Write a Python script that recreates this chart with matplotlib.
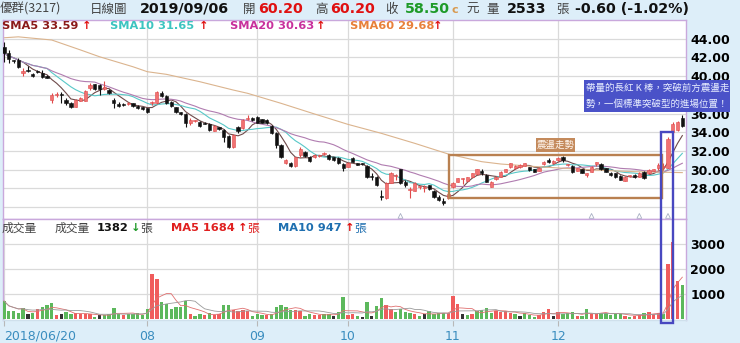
import numpy as np
import pandas as pd
import matplotlib
matplotlib.use("Agg")
import matplotlib.pyplot as plt
from matplotlib.patches import Rectangle

# ---------------- data ----------------
opens = [43.15, 42.44, 41.65, 41.72, 40.30, 40.65, 40.19, 40.55, 40.37, 40.01,
         37.45, 38.00, 38.00, 37.45, 37.16, 36.73, 37.37, 37.37, 38.70, 39.12,
         39.05, 38.60, 38.51, 37.45, 37.02, 37.02, 37.00, 37.09, 36.84, 36.66,
         36.56, 37.10, 37.09, 38.23, 37.87, 37.20, 36.66, 36.05, 35.92, 35.02,
         35.15, 35.12, 34.95, 34.88, 34.16, 34.53, 34.24, 33.59, 32.45, 34.53,
         34.42, 35.45, 35.49, 35.66, 35.38, 35.31, 34.66, 33.92, 32.63, 30.67,
         30.74, 30.39, 31.56, 31.92, 31.32, 31.32, 31.45, 31.70, 31.56, 31.32,
         31.21, 30.60, 30.31, 31.21, 30.67, 30.60, 30.39, 29.20, 29.24, 27.05,
         26.93, 28.60, 29.30, 30.03, 28.71, 27.82, 27.74, 28.10, 28.00, 28.35,
         27.74, 27.10, 26.67, 26.93, 28.17, 28.71, 28.95, 28.81, 29.24, 29.53,
         29.88, 29.42, 28.17, 28.96, 29.24, 29.78, 30.25, 30.14, 30.25, 30.39,
         30.25, 30.06, 29.88, 30.57, 31.03, 30.67, 31.03, 31.32, 30.45, 30.39,
         29.88, 30.03, 29.39, 29.78, 30.65, 30.63, 30.14, 29.69, 29.60, 29.32,
         28.83, 29.30, 29.42, 29.24, 29.78, 29.60, 29.88, 30.14, 30.30, 30.20,
         34.05, 34.24, 35.52]
highs = [43.68, 42.79, 41.75, 41.90, 40.84, 41.10, 40.30, 40.65, 40.65, 40.10,
         38.16, 38.27, 38.33, 37.63, 37.25, 37.55, 37.75, 38.50, 39.23, 39.20,
         39.16, 39.48, 38.60, 37.63, 37.26, 37.10, 37.20, 37.15, 36.90, 36.75,
         36.60, 37.37, 38.40, 38.44, 37.95, 37.30, 36.75, 36.19, 36.02, 35.52,
         35.30, 35.20, 35.05, 34.95, 34.75, 34.60, 34.35, 33.70, 33.80, 34.67,
         35.40, 35.84, 35.60, 35.75, 35.45, 35.40, 34.75, 34.00, 32.70, 31.10,
         30.85, 31.40, 32.39, 32.00, 31.46, 31.65, 31.60, 31.92, 31.65, 31.40,
         31.30, 30.74, 30.80, 31.30, 30.75, 30.70, 30.45, 29.61, 29.30, 27.82,
         28.70, 29.75, 29.53, 30.10, 28.89, 28.10, 28.65, 28.25, 28.35, 28.40,
         27.80, 27.28, 26.93, 27.45, 28.71, 29.15, 29.07, 29.25, 29.65, 30.10,
         30.03, 29.50, 28.80, 29.30, 29.85, 30.10, 30.75, 30.50, 30.55, 30.75,
         30.30, 30.10, 30.25, 30.95, 31.24, 31.00, 31.35, 31.46, 30.55, 30.45,
         30.20, 30.10, 29.65, 30.40, 30.85, 30.70, 30.20, 29.75, 29.65, 29.40,
         29.35, 29.40, 29.50, 29.70, 29.85, 30.05, 30.10, 30.74, 30.67, 33.45,
         35.10, 35.15, 35.84]
lows = [41.54, 41.40, 41.45, 40.84, 40.04, 40.47, 39.95, 40.30, 39.77, 39.75,
        37.09, 37.80, 37.09, 36.91, 36.60, 36.65, 37.30, 37.30, 38.51, 38.55,
        37.98, 38.51, 38.10, 36.55, 36.66, 36.80, 36.95, 36.75, 36.50, 36.40,
        36.10, 36.91, 37.00, 37.80, 37.00, 36.70, 36.10, 35.84, 34.52, 34.77,
        35.05, 34.60, 34.85, 34.15, 34.10, 34.25, 32.99, 32.30, 32.35, 33.88,
        34.35, 35.30, 35.25, 34.95, 34.95, 34.90, 33.80, 32.31, 31.20, 30.60,
        30.30, 30.30, 31.38, 31.40, 30.85, 31.25, 31.40, 31.56, 31.00, 30.95,
        30.60, 29.88, 30.25, 30.80, 30.45, 30.50, 29.10, 28.89, 28.30, 26.75,
        26.85, 28.55, 28.89, 28.45, 28.10, 26.92, 27.70, 27.90, 27.64, 27.85,
        26.93, 26.68, 26.22, 26.85, 27.99, 28.65, 28.46, 28.75, 29.20, 29.45,
        29.42, 28.65, 28.10, 28.90, 29.20, 29.70, 30.20, 30.10, 30.20, 30.35,
        29.90, 29.70, 29.85, 30.50, 30.68, 30.60, 30.95, 30.85, 30.35, 29.65,
        29.80, 29.60, 29.25, 29.70, 30.40, 30.00, 29.70, 29.30, 29.15, 28.85,
        28.75, 29.20, 29.15, 29.20, 29.00, 29.55, 29.80, 29.96, 29.96, 30.14,
        33.90, 34.15, 34.55]
closes = [42.44, 41.83, 41.60, 41.01, 40.58, 40.55, 40.01, 40.41, 39.94, 39.83,
          37.98, 38.05, 37.95, 37.09, 36.73, 37.45, 37.63, 38.41, 39.05, 38.62,
          38.62, 38.85, 38.16, 37.09, 36.80, 36.88, 37.10, 36.84, 36.56, 36.45,
          36.19, 37.16, 38.33, 37.87, 37.09, 36.80, 36.19, 36.00, 34.95, 35.31,
          35.20, 34.66, 34.90, 34.24, 34.66, 34.31, 33.46, 32.45, 33.70, 34.16,
          35.30, 35.50, 35.31, 35.02, 35.02, 34.95, 33.88, 32.63, 31.32, 31.03,
          30.39, 31.32, 32.17, 31.46, 30.95, 31.56, 31.50, 31.75, 31.10, 31.03,
          30.67, 30.14, 30.74, 30.85, 30.49, 30.58, 29.18, 29.18, 28.35, 27.04,
          28.60, 29.67, 29.32, 28.53, 28.35, 27.85, 28.60, 28.11, 28.02, 27.89,
          27.10, 26.75, 26.46, 27.39, 28.54, 29.07, 29.00, 29.18, 29.60, 30.03,
          29.67, 28.71, 28.71, 29.24, 29.78, 30.03, 30.67, 30.42, 30.49, 30.67,
          29.96, 29.78, 30.20, 30.85, 30.78, 30.92, 31.27, 31.03, 30.46, 29.74,
          30.14, 29.67, 29.60, 30.31, 30.67, 30.07, 29.78, 29.39, 29.24, 28.94,
          29.26, 29.32, 29.24, 29.60, 29.07, 29.96, 30.06, 30.49, 30.31, 33.30,
          34.88, 35.06, 34.66]

volumes = [733, 347, 347, 240, 440, 200, 267, 413, 507, 573,
           640, 160, 213, 307, 200, 240, 213, 200, 213, 107,
           160, 160, 200, 467, 200, 160, 200, 227, 240, 173,
           427, 1800, 1600, 707, 613, 413, 480, 507, 747, 213,
           133, 213, 173, 267, 173, 200, 573, 560, 373, 333,
           373, 320, 133, 200, 173, 160, 200, 480, 573, 507,
           373, 387, 347, 133, 200, 160, 160, 200, 227, 147,
           293, 880, 160, 213, 133, 107, 693,
           133, 533, 840, 560, 413, 293, 413, 293, 267, 200,
           133, 200, 320, 200, 253, 253, 240, 933, 613, 213,
           173, 200, 333, 373, 440, 267, 333, 307, 333, 267,
           200, 133, 240, 160, 107, 173, 307, 413, 133, 307,
           200, 240, 280, 133, 133, 400, 200, 227, 267, 267,
           160, 227, 227, 133, 107, 133, 160, 267, 293, 227,
           253, 213, 2200, 3100, 1533, 1382]
# r = up, g = down, k = unchanged
vol_colors = ("gggggkgrgg" "grkggrrrrg" "kggggrgggg" "grrggggggr" "ggrgrrggrr"
              "rrgggrgggg" "grrggrrggk" "ggrrgkg"
              "kggrrggggr" "gkggggrrrk" "grggggrrrr" "gkgggrrrkr" "gggrggrrgg"
              "gggrgrrgrr" "rgrrrg")

# SMA60 (needs history not shown)
sma60_idx = [0, 3, 10, 16, 20, 27, 30, 34, 41, 48, 51, 58, 65, 72, 79, 86, 93, 100, 104, 112, 124, 132, 142]
sma60_val = [44.1, 44.2, 43.86, 42.8, 42.07, 41.0, 40.47, 40.19, 39.4, 38.51, 38.16, 37.09, 35.95,
             34.84, 33.88, 32.81, 31.67, 30.85, 30.6, 30.3, 29.95, 29.78, 29.68]

month_idx = [0, 30, 53, 72, 94, 116]
month_lbl = ['2018/06/20', '08', '09', '10', '11', '12']
signal_idx = [83, 123, 133, 139]

price_ticks = np.arange(26, 46, 2)
# 26 is off the labelled range, 38 sits under the note box in the original
price_lbls = ['' if t in (26, 38) else f'{t:.2f}' for t in price_ticks]

# ---------------- figure ----------------
W, H = 740, 343
BG = '#ddeef9'
CJK = ['Noto Sans CJK TC', 'DejaVu Sans']
LAT = ['DejaVu Sans', 'Noto Sans CJK TC']
BORDER = '#c9a8dc'
GRID = '#dadada'

fig = plt.figure(figsize=(7.4, 3.43), dpi=100, facecolor=BG)

def fx(px):
    return px / W

def fy(py):
    return 1 - py / H

ax = fig.add_axes([fx(3), fy(219), fx(686) - fx(3), fy(20) - fy(219)])
axv = fig.add_axes([fx(3), fy(320), fx(686) - fx(3), fy(219) - fy(320)])

x = np.arange(len(opens))
o = np.array(opens); h = np.array(highs); l = np.array(lows); c = np.array(closes)
up = c >= o

# candles
face = np.where(up, '#f07272', '#111111')
edge = np.where(up, '#e04a4a', '#111111')
ax.vlines(x, l, h, colors=edge, lw=0.8, zorder=3)
ax.bar(x, np.maximum(np.abs(c - o), 0.12), bottom=np.minimum(o, c), width=0.68,
       color=face, edgecolor=edge, lw=0.4, zorder=4)

close = pd.Series(c)
ax.plot(x, close.rolling(5, min_periods=1).mean(), color='#6e4a4a', lw=0.8, zorder=2)
ax.plot(x, close.rolling(10, min_periods=1).mean(), color='#58c8c8', lw=0.8, zorder=2)
ax.plot(x, close.rolling(20, min_periods=1).mean(), color='#b07cb0', lw=0.8, zorder=2)
ax.plot(sma60_idx, sma60_val, color='#dbb48e', lw=0.8, zorder=2)

ax.scatter(signal_idx, [25.05] * len(signal_idx), marker='^', s=12,
           facecolors='none', edgecolors='#a8b0c4', lw=0.6, zorder=3)

ax.set_xlim(-0.21, 142.77)
ax.set_ylim(24.72, 46.0)
ax.set_yticks(price_ticks)
ax.set_yticklabels(price_lbls, fontweight='bold', fontsize=9)
ax.yaxis.tick_right()
ax.tick_params(axis='y', length=0, pad=3)
ax.set_xticks(month_idx[1:])
ax.set_xticklabels([])
ax.tick_params(axis='x', length=0)
ax.grid(True, color=GRID, lw=0.9)
ax.set_axisbelow(True)

# consolidation box
ax.add_patch(Rectangle((93.2, 26.96), 44.5, 4.6, fill=False, ec='#b98050', lw=1.7, zorder=6))

# volume
vmap = {'r': '#f05c5c', 'g': '#5cb85c', 'k': '#333333'}
axv.bar(x, volumes, width=0.7, color=[vmap[k] for k in vol_colors], zorder=3)
vs = pd.Series(volumes)
axv.plot(x, vs.rolling(5, min_periods=1).mean(), color='#e07070', lw=0.6, zorder=4)
axv.plot(x, vs.rolling(10, min_periods=1).mean(), color='#9a9a9a', lw=0.6, zorder=4)
axv.set_xlim(-0.21, 142.77)
axv.set_ylim(-28, 4012)
axv.set_yticks([1000, 2000, 3000])
axv.set_yticklabels(['1000', '2000', '3000'], fontweight='bold', fontsize=9)
axv.yaxis.tick_right()
axv.tick_params(axis='y', length=0, pad=3)
axv.set_xticks(month_idx)
axv.set_xticklabels(month_lbl, fontsize=9, color='#3a8dbf')
axv.get_xticklabels()[0].set_ha('left')
axv.tick_params(axis='x', length=4, color='#b8b8b8', pad=3)
axv.grid(True, color=GRID, lw=0.9)
axv.set_axisbelow(True)

for a in (ax, axv):
    for s in a.spines.values():
        s.set_color(BORDER)
        s.set_linewidth(1)
axv.spines['bottom'].set_color('#cfe0ec')

# ---------------- texts ----------------
def t(px, py, s, color='#333333', size=8.2, weight='normal', family=LAT, ha='left'):
    fig.text(fx(px), fy(py), s, color=color, fontsize=size, fontweight=weight,
             family=family, ha=ha, va='center', zorder=7)

# header
t(0, 9, '優群(3217)', color='#444444', size=9, family=CJK)
t(90, 9, '日線圖', color='#444444', size=9, family=CJK)
t(140, 9, '2019/09/06', color='#111111', size=10.3, weight='bold')
t(243, 9, '開', color='#444444', size=9, family=CJK)
t(258, 9, '60.20', color='#e01010', size=10.3, weight='bold')
t(315, 9, '高', color='#444444', size=9, family=CJK)
t(330, 9, '60.20', color='#e01010', size=10.3, weight='bold')
t(385, 9, '收', color='#444444', size=9, family=CJK)
t(405, 9, '58.50', color='#1e9a28', size=10.3, weight='bold')
t(452, 10, 'c', color='#d89a50', size=8, weight='bold')
t(466, 9, '元', color='#444444', size=9, family=CJK)
t(486, 9, '量', color='#444444', size=9, family=CJK)
t(507, 9, '2533', color='#111111', size=10.3, weight='bold')
t(556, 9, '張', color='#444444', size=9, family=CJK)
t(575, 9, '-0.60 (-1.02%)', color='#111111', size=10.3, weight='bold')

# SMA legend
t(2, 26, 'SMA5 33.59', color='#8b1a1a', weight='bold')
t(82, 26, '↑', color='#e01010', weight='bold')
t(110, 26, 'SMA10 31.65', color='#3cc4c0', weight='bold')
t(199, 26, '↑', color='#e01010', weight='bold')
t(230, 26, 'SMA20 30.63', color='#c8309c', weight='bold')
t(316, 26, '↑', color='#e01010', weight='bold')
t(350, 26, 'SMA60 29.68', color='#e8803a', weight='bold')
t(433, 26, '↑', color='#e01010', weight='bold')

# volume legend
t(2, 228, '成交量', color='#444444', size=8.5, family=CJK)
t(55, 228, '成交量', color='#444444', size=8.5, family=CJK)
t(97, 228, '1382', color='#111111', weight='bold')
t(131, 228, '↓', color='#1e9a28', weight='bold')
t(140, 228, '張', color='#444444', size=8.5, family=CJK)
t(171, 228, 'MA5 1684', color='#e02020', weight='bold')
t(238, 228, '↑', color='#e01010', weight='bold')
t(247, 228, '張', color='#e02020', size=8.5, family=CJK)
t(278, 228, 'MA10 947', color='#1f6fb0', weight='bold')
t(345, 228, '↑', color='#e01010', weight='bold')
t(354, 228, '張', color='#1f6fb0', size=8.5, family=CJK)

# annotations
fig.add_artist(Rectangle((fx(661), fy(322.7)), fx(673) - fx(661), (322.7 - 132) / H,
                         transform=fig.transFigure, fill=False, ec='#4848c0', lw=1.7, zorder=5))
fig.add_artist(Rectangle((fx(584), fy(112)), 146 / W, 32 / H, transform=fig.transFigure,
                         fc='#4a52c8', ec='none', zorder=5))
t(586, 88, '帶量的長紅 K 棒，突破前方震盪走', color='#e8eeff', size=6.8, family=CJK)
t(586, 104, '勢，一個標準突破型的進場位置！', color='#e8eeff', size=6.8, family=CJK)
fig.add_artist(Rectangle((fx(536), fy(152)), 39 / W, 14 / H, transform=fig.transFigure,
                         fc='#c48a5c', ec='none', zorder=5))
t(555.5, 145, '震盪走勢', color='#fff6ee', size=6.8, family=CJK, ha='center')

fig.savefig('out.png', dpi=100, facecolor=BG)
